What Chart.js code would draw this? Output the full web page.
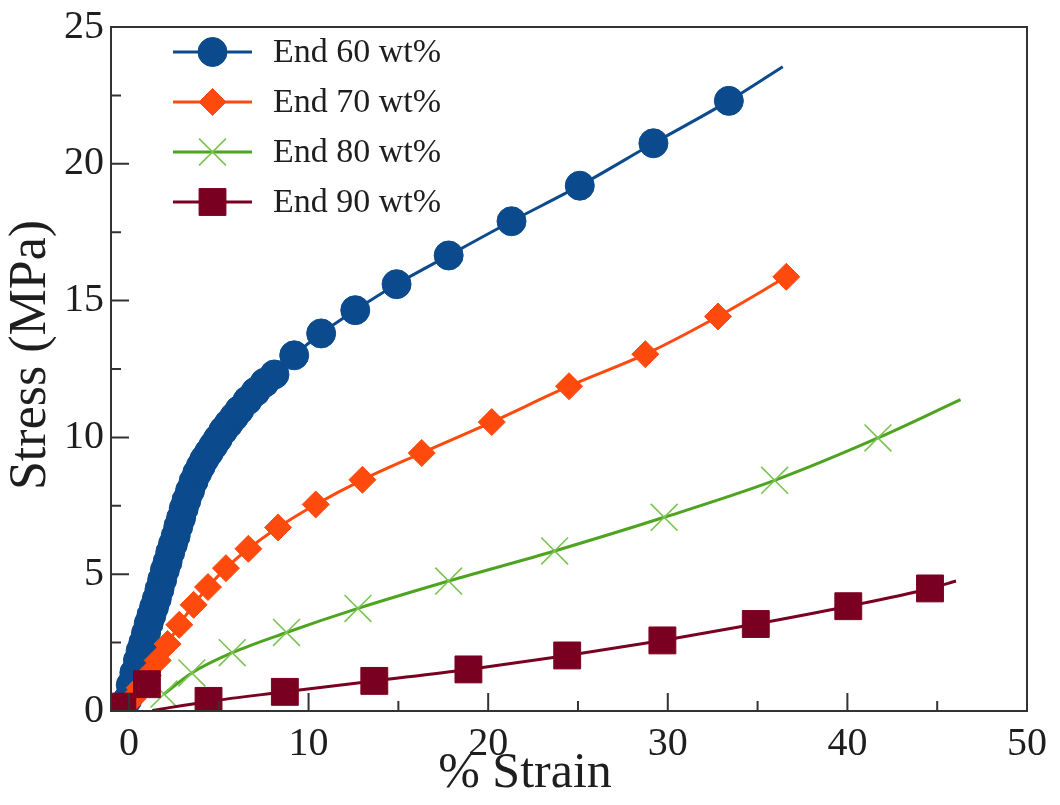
<!DOCTYPE html>
<html>
<head>
<meta charset="utf-8">
<script src="https://cdn.jsdelivr.net/npm/chart.js@4"></script>
<style>
  html, body { margin: 0; padding: 0; background: #fff; }
  #wrap { width: 1060px; height: 805px; }
</style>
</head>
<body>
<div id="wrap"><canvas id="stressChart" width="1060" height="805"></canvas></div>
<script>
// ── Data ───────────────────────────────────────────────────
const seriesNames = ['End 60 wt%', 'End 70 wt%', 'End 80 wt%', 'End 90 wt%'];
const xTitle = '% Strain';
const yTitle = 'Stress (MPa)';

// End 60 wt%: markers sit on the curve, curve runs on past the last one
const end60Strain = [-0.1, 0.1, 0.3, 0.5, 0.65, 0.8, 0.95, 1.1, 1.25, 1.4, 1.55, 1.7, 1.85, 2.0,
  2.15, 2.3, 2.45, 2.6, 2.75, 2.9, 3.05, 3.2, 3.4, 3.6, 3.8, 4.0, 4.2, 4.45, 4.7, 4.95, 5.25,
  5.55, 5.85, 6.15, 6.6, 7.05, 7.55, 8.1, 9.2, 10.7, 12.6, 14.9, 17.8, 21.3, 25.1, 29.2, 33.4];
const end60Stress = [0.4, 0.95, 1.4, 1.85, 2.2, 2.5, 2.85, 3.2, 3.5, 3.8, 4.1, 4.45, 4.8, 5.15,
  5.45, 5.8, 6.1, 6.4, 6.75, 7.05, 7.4, 7.7, 8.05, 8.4, 8.7, 8.95, 9.2, 9.45, 9.7, 9.95, 10.25,
  10.5, 10.75, 11.0, 11.35, 11.67, 12.0, 12.3, 13.0, 13.8, 14.65, 15.6, 16.65, 17.9, 19.2, 20.75, 22.3];
const end60TailStrain = [36.4];
const end60TailStress = [23.55];

// End 70 wt%
const end70Strain = [0.2, 0.6, 1.05, 1.6, 2.15, 2.8, 3.6, 4.4, 5.4, 6.65, 8.3, 10.4, 13.0, 16.3,
  20.2, 24.5, 28.75, 32.8, 36.6];
const end70Stress = [0.45, 0.85, 1.3, 1.85, 2.45, 3.15, 3.88, 4.53, 5.22, 5.93, 6.71, 7.55, 8.45,
  9.43, 10.56, 11.87, 13.04, 14.42, 15.87];

// End 80 wt%
const end80Strain = [1.95, 3.5, 5.75, 8.77, 12.75, 17.8, 23.7, 29.8, 35.95, 41.7];
const end80Stress = [0.62, 1.39, 2.13, 2.87, 3.75, 4.75, 5.85, 7.08, 8.43, 9.98];
const end80TailStrain = [46.3];
const end80TailStress = [11.38];

// End 90 wt%: the first two squares sit off the fitted curve
const end90Strain = [-0.37, 1.0, 4.43, 8.68, 13.66, 18.9, 24.4, 29.7, 34.9, 40.05, 44.6];
const end90Stress = [0.16, 0.98, 0.37, 0.70, 1.1, 1.52, 2.03, 2.58, 3.18, 3.83, 4.48];
const end90LineStrain = [1.3, 4.43, 8.68, 13.66, 18.9, 24.4, 29.7, 34.9, 40.05, 44.6, 46.05];
const end90LineStress = [0.02, 0.35, 0.70, 1.1, 1.52, 2.03, 2.58, 3.18, 3.83, 4.48, 4.75];

// Axis ticks
const xMajorTicks = [0, 10, 20, 30, 40, 50];
const xMinorTicks = [5, 15, 25, 35, 45];
const yMajorTicks = [0, 5, 10, 15, 20, 25];
const yMinorTicks = [2.5, 7.5, 12.5, 17.5, 22.5];

// ── Helpers ────────────────────────────────────────────────
const toPoints = (xs, ys) => xs.map((x, i) => ({ x: x, y: ys[i] }));

const FONT = '"Liberation Serif", "Times New Roman", serif';
const INK = '#1e1e1e';

const styles = [
  { color: '#0b4a8c', marker: '#0b4a8c', pointStyle: 'circle',   radius: 14.5, markerWidth: 1 },
  { color: '#ff4a0e', marker: '#ff4a0e', pointStyle: 'rectRot',  radius: 13.5, markerWidth: 1 },
  { color: '#4ea420', marker: '#7cc452', pointStyle: 'crossRot', radius: 19,   markerWidth: 1.6 },
  { color: '#7a0022', marker: '#7a0022', pointStyle: 'rect',     radius: 19,   markerWidth: 1 }
];

const linePoints = [
  toPoints(end60Strain.concat(end60TailStrain), end60Stress.concat(end60TailStress)),
  toPoints(end70Strain, end70Stress),
  toPoints(end80Strain.concat(end80TailStrain), end80Stress.concat(end80TailStress)),
  toPoints(end90LineStrain, end90LineStress)
];
const markerPoints = [
  toPoints(end60Strain, end60Stress),
  toPoints(end70Strain, end70Stress),
  toPoints(end80Strain, end80Stress),
  toPoints(end90Strain, end90Stress)
];

// higher order value = drawn further below; End 90 ends on top
const datasets = [];
seriesNames.forEach((name, i) => {
  const s = styles[i];
  datasets.push({
    label: name,
    data: linePoints[i],
    showLine: true,
    borderColor: s.color,
    borderWidth: 3,
    pointRadius: 0,
    cubicInterpolationMode: 'monotone',
    clip: 0,
    order: (4 - i) * 2 + 1
  });
  datasets.push({
    label: name + ' markers',
    data: markerPoints[i],
    showLine: false,
    pointStyle: s.pointStyle,
    pointRadius: s.radius,
    pointBackgroundColor: s.marker,
    pointBorderColor: s.marker,
    pointBorderWidth: s.markerWidth,
    clip: 0,
    order: (4 - i) * 2
  });
});

// ── Frame, inward ticks, axis titles and legend ────────────
const framePlugin = {
  id: 'frame',
  afterDraw(chart) {
    const { ctx, chartArea: a, scales: { x, y } } = chart;
    ctx.save();
    ctx.strokeStyle = '#333';
    ctx.lineWidth = 2;
    ctx.strokeRect(a.left, a.top, a.right - a.left, a.bottom - a.top);

    ctx.beginPath();
    xMajorTicks.forEach(v => { const px = x.getPixelForValue(v); ctx.moveTo(px, a.bottom); ctx.lineTo(px, a.bottom - 18); });
    xMinorTicks.forEach(v => { const px = x.getPixelForValue(v); ctx.moveTo(px, a.bottom); ctx.lineTo(px, a.bottom - 10); });
    yMajorTicks.forEach(v => { const py = y.getPixelForValue(v); ctx.moveTo(a.left, py); ctx.lineTo(a.left + 18, py); });
    yMinorTicks.forEach(v => { const py = y.getPixelForValue(v); ctx.moveTo(a.left, py); ctx.lineTo(a.left + 10, py); });
    ctx.stroke();

    // axis titles (sit a little off-centre in the original)
    ctx.fillStyle = INK;
    ctx.textAlign = 'center';
    ctx.textBaseline = 'middle';
    ctx.font = '50px ' + FONT;
    ctx.fillText(xTitle, 525, 774);
    ctx.save();
    ctx.translate(31, 355);
    ctx.rotate(-Math.PI / 2);
    ctx.font = '52px ' + FONT;
    ctx.fillText(yTitle, 0, 0);
    ctx.restore();

    // legend: short line with the marker in its middle
    ctx.font = '34px ' + FONT;
    ctx.textAlign = 'left';
    seriesNames.forEach((name, i) => {
      const s = styles[i];
      const ly = 52 + i * 50;
      ctx.strokeStyle = s.color;
      ctx.lineWidth = 3;
      ctx.beginPath();
      ctx.moveTo(173, ly);
      ctx.lineTo(252, ly);
      ctx.stroke();
      ctx.fillStyle = s.marker;
      ctx.strokeStyle = s.marker;
      ctx.lineWidth = s.markerWidth;
      Chart.helpers.drawPoint(ctx, { pointStyle: s.pointStyle, radius: s.radius, rotation: 0, borderWidth: s.markerWidth }, 212.5, ly);
      ctx.fillStyle = INK;
      ctx.fillText(name, 273, ly + 1);
    });
    ctx.restore();
  }
};

// ── Chart ──────────────────────────────────────────────────
const ctx = document.getElementById('stressChart').getContext('2d');
new Chart(ctx, {
  type: 'scatter',
  data: { datasets: datasets },
  options: {
    responsive: false,
    animation: false,
    devicePixelRatio: 1,
    layout: { padding: { top: 20, right: 27, left: 0, bottom: 0 } },
    plugins: {
      legend: { display: false },
      tooltip: { enabled: false }
    },
    scales: {
      x: {
        type: 'linear',
        min: -1,
        max: 50,
        afterBuildTicks: scale => { scale.ticks = xMajorTicks.map(v => ({ value: v })); },
        afterFit: scale => { scale.height = 94; },
        grid: { display: false, drawTicks: false },
        border: { display: false },
        ticks: { color: INK, padding: 13, font: { family: FONT, size: 40, lineHeight: 1 } }
      },
      y: {
        type: 'linear',
        min: 0,
        max: 25,
        afterBuildTicks: scale => { scale.ticks = yMajorTicks.map(v => ({ value: v })); },
        afterFit: scale => { scale.width = 111; },
        grid: { display: false, drawTicks: false },
        border: { display: false },
        ticks: { color: INK, padding: 7, font: { family: FONT, size: 40, lineHeight: 1 } }
      }
    }
  },
  plugins: [framePlugin]
});
</script>
</body>
</html>
